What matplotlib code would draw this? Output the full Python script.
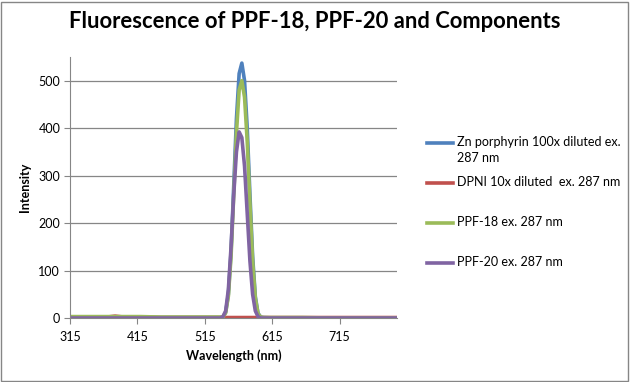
"""Fluorescence spectra of PPF-18, PPF-20 and their components (ex. 287 nm)."""
import matplotlib
matplotlib.use("Agg")
import matplotlib.pyplot as plt
from matplotlib.lines import Line2D
from matplotlib.patches import Rectangle

plt.rcParams.update({"font.family": ["Lato", "DejaVu Sans"], "font.size": 9})

# wavelength grid (nm) shared by all four spectra
wavelength = [315, 330, 350, 370, 382, 395, 420, 450, 480, 510, 530, 538,
              542, 546, 550, 554, 558, 562, 566, 570, 574, 578, 582, 586,
              590, 594, 598, 602, 620, 660, 700, 750, 800]

zn_porphyrin = [1, 1, 1, 1, 1, 1, 1, 1, 1, 1, 1, 1,
                2, 12, 50, 140, 280, 420, 515, 537, 500, 400, 260, 130,
                45, 10, 2, 1, 0, 0, 0, 0, 0]
dpni = [2, 2, 2, 2, 4, 2, 2, 1, 1, 1, 1, 1,
        1, 1, 1, 1, 1, 1, 1, 1, 1, 1, 1, 1,
        1, 1, 1, 1, 1, 1, 1, 1, 1]
ppf18 = [3, 3, 3, 3, 3, 3, 3, 2, 2, 2, 2, 2,
         2, 11, 46, 130, 260, 390, 480, 500, 465, 372, 242, 120,
         42, 9, 2, 1, 1, 1, 0, 0, 0]
ppf20 = [0, 0, 0, 0, 0, 0, 0, 0, 0, 0, 0, 0,
         3, 15, 60, 150, 260, 350, 392, 380, 320, 220, 120, 50,
         15, 3, 0, 0, 0, 0, 0, 0, 0]

series = [
    (zn_porphyrin, "Zn porphyrin 100x diluted ex.\n287 nm", "#4F81BD"),
    (dpni, "DPNI 10x diluted  ex. 287 nm", "#C0504D"),
    (ppf18, "PPF-18 ex. 287 nm", "#9BBB59"),
    (ppf20, "PPF-20 ex. 287 nm", "#8064A2"),
]
xticks = [315, 415, 515, 615, 715]
yticks = [0, 100, 200, 300, 400, 500]

W, H = 630, 382
fig = plt.figure(figsize=(W / 100, H / 100), dpi=100)
ax = fig.add_axes([0.111, 0.1675, 0.519, 0.6835])

for vals, lab, c in series:
    ax.plot(wavelength, vals, color=c, lw=2.6, label=lab, solid_capstyle="round")

ax.set_xlim(315, 800)
ax.set_ylim(0, 550)
ax.set_xticks(xticks)
ax.set_yticks(yticks)
ax.grid(axis="y", color="#868686", lw=0.9)
ax.set_axisbelow(True)
for sp in ["top", "right"]:
    ax.spines[sp].set_visible(False)
for sp in ["left", "bottom"]:
    ax.spines[sp].set_color("#868686")
ax.tick_params(color="#868686", length=4, labelsize=9, pad=3)
ax.tick_params(axis="x", pad=5)
ax.set_xlabel("Wavelength (nm)", fontweight="bold", fontsize=9, labelpad=5)
ax.set_ylabel("Intensity", fontweight="bold", fontsize=9, labelpad=5)

fig.suptitle("Fluorescence of PPF-18, PPF-20 and Components",
             fontweight="bold", fontsize=15.8, x=0.5, y=0.97)

# legend drawn by hand: Excel keeps the key on the first line of a wrapped label
for i, (vals, lab, c) in enumerate(series):
    yp = 143 + 40 * i
    fig.add_artist(Line2D([427 / W, 453 / W], [1 - yp / H, 1 - yp / H],
                          color=c, lw=2.6, transform=fig.transFigure))
    fig.text(457 / W, 1 - (yp - 7) / H, lab, fontsize=9, va="top",
             linespacing=1.45)

fig.patches.append(Rectangle((0.002, 0.003), 0.995, 0.993, transform=fig.transFigure,
                             fill=False, edgecolor="#868686", lw=1))
fig.savefig("out.png", dpi=100)
